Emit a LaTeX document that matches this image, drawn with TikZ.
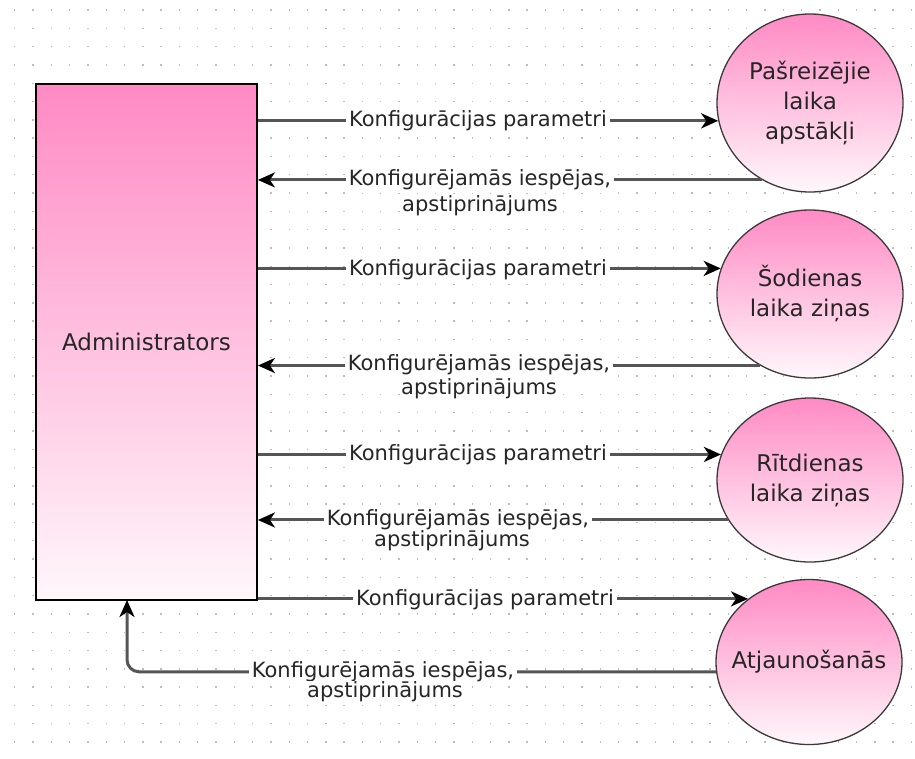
\documentclass[tikz,border=0pt]{standalone}
\usepackage{fontspec}
\setmainfont{DejaVu Sans}
\usetikzlibrary{shapes.geometric,arrows.meta}
\definecolor{pinktop}{HTML}{FF8AC4}
\definecolor{pinkbot}{HTML}{FFF7FB}
\definecolor{linegray}{HTML}{555555}
\definecolor{ellgray}{HTML}{3A3A3A}
\definecolor{txt}{HTML}{262626}
\definecolor{dotgray}{HTML}{BDBDBD}
\begin{document}
\begin{tikzpicture}[x=1pt,y=-1pt,
  every node/.style={text=txt, font=\fontsize{21}{25}\selectfont},
  adminbox/.style={draw=black, line width=1.8pt, top color=pinktop, bottom color=pinkbot, minimum width=221pt, minimum height=516pt, inner sep=0pt, font=\fontsize{23}{27}\selectfont},
  proc/.style={ellipse, draw=ellgray, line width=1.3pt, top color=pinktop, bottom color=pinkbot, minimum width=186pt, align=center, inner sep=0pt, font=\fontsize{23}{30}\selectfont},
  flow/.style={draw=linegray, line width=3pt, -{Stealth[length=17pt,width=15pt,inset=5pt,black]}},
  lbl/.style={fill=white, inner sep=3pt},
  lbltwo/.style={fill=white, inner sep=1pt},
  dotline/.style={draw=dotgray, line width=1.4pt, dash pattern=on 1.4pt off 16.9pt}
]
\fill[white] (0,0) rectangle (915,758);
\useasboundingbox (0,0) rectangle (915,758);
\foreach \i in {0,...,40} {\draw[dotline] (14,{10+18.3*\i}) -- (915,{10+18.3*\i});}

\node[adminbox] (admin) at (146.5,342) {Administrators};
\coordinate (adminin) at (127,600);

\node[proc, minimum height=178pt] (e1) at (810,103) {Pašreizējie\\laika\\apstākļi};
\node[proc, minimum height=168pt] (e2) at (810,294) {Šodienas\\laika ziņas};
\node[proc, minimum height=164pt] (e3) at (810,480) {Rītdienas\\laika ziņas};
\node[proc, minimum height=165pt] (e4) at (809,662) {\makebox[120pt][c]{Atjaunošanās}};

% row 1
\draw[flow] (e1.191.2 -| admin.east) -- (e1.191.2);
\node[lbl] (l1) at (478,121) {Konfigurācijas parametri};
% row 2
\draw[flow] (e1.238.8) -- (e1.238.8 -| admin.east);
\node[lbl] (l2a) at (480,180) {Konfigurējamās iespējas,};
\node[lbltwo] (l2b) at (480,206) {apstiprinājums};
% row 3
\draw[flow] (e2.164.9 -| admin.east) -- (e2.164.9);
\node[lbl] (l3) at (478,270) {Konfigurācijas parametri};
% row 4
\draw[flow] (e2.235) -- (e2.235 -| admin.east);
\node[lbl] (l4a) at (479,365) {Konfigurējamās iespējas,};
\node[lbltwo] (l4b) at (479,389) {apstiprinājums};
% row 5
\draw[flow] (e3.164.2 -| admin.east) -- (e3.164.2);
\node[lbl] (l5) at (478,455) {Konfigurācijas parametri};
% row 6
\draw[flow] (e3.206.2) -- (e3.206.2 -| admin.east);
\node[lbl] (l6a) at (458,520) {Konfigurējamās iespējas,};
\node[lbltwo] (l6b) at (452,541) {apstiprinājums};
% row 7
\draw[flow] (e4.134.4 -| admin.east) -- (e4.134.4);
\node[lbl] (l7) at (485,600) {Konfigurācijas parametri};
% row 8
\draw[flow, rounded corners=12pt] (e4.186.2) -- (e4.186.2 -| adminin) -- (adminin);
\node[lbl] (l8a) at (383,672) {Konfigurējamās iespējas,};
\node[lbltwo] (l8b) at (385,692) {apstiprinājums};
\end{tikzpicture}
\end{document}
